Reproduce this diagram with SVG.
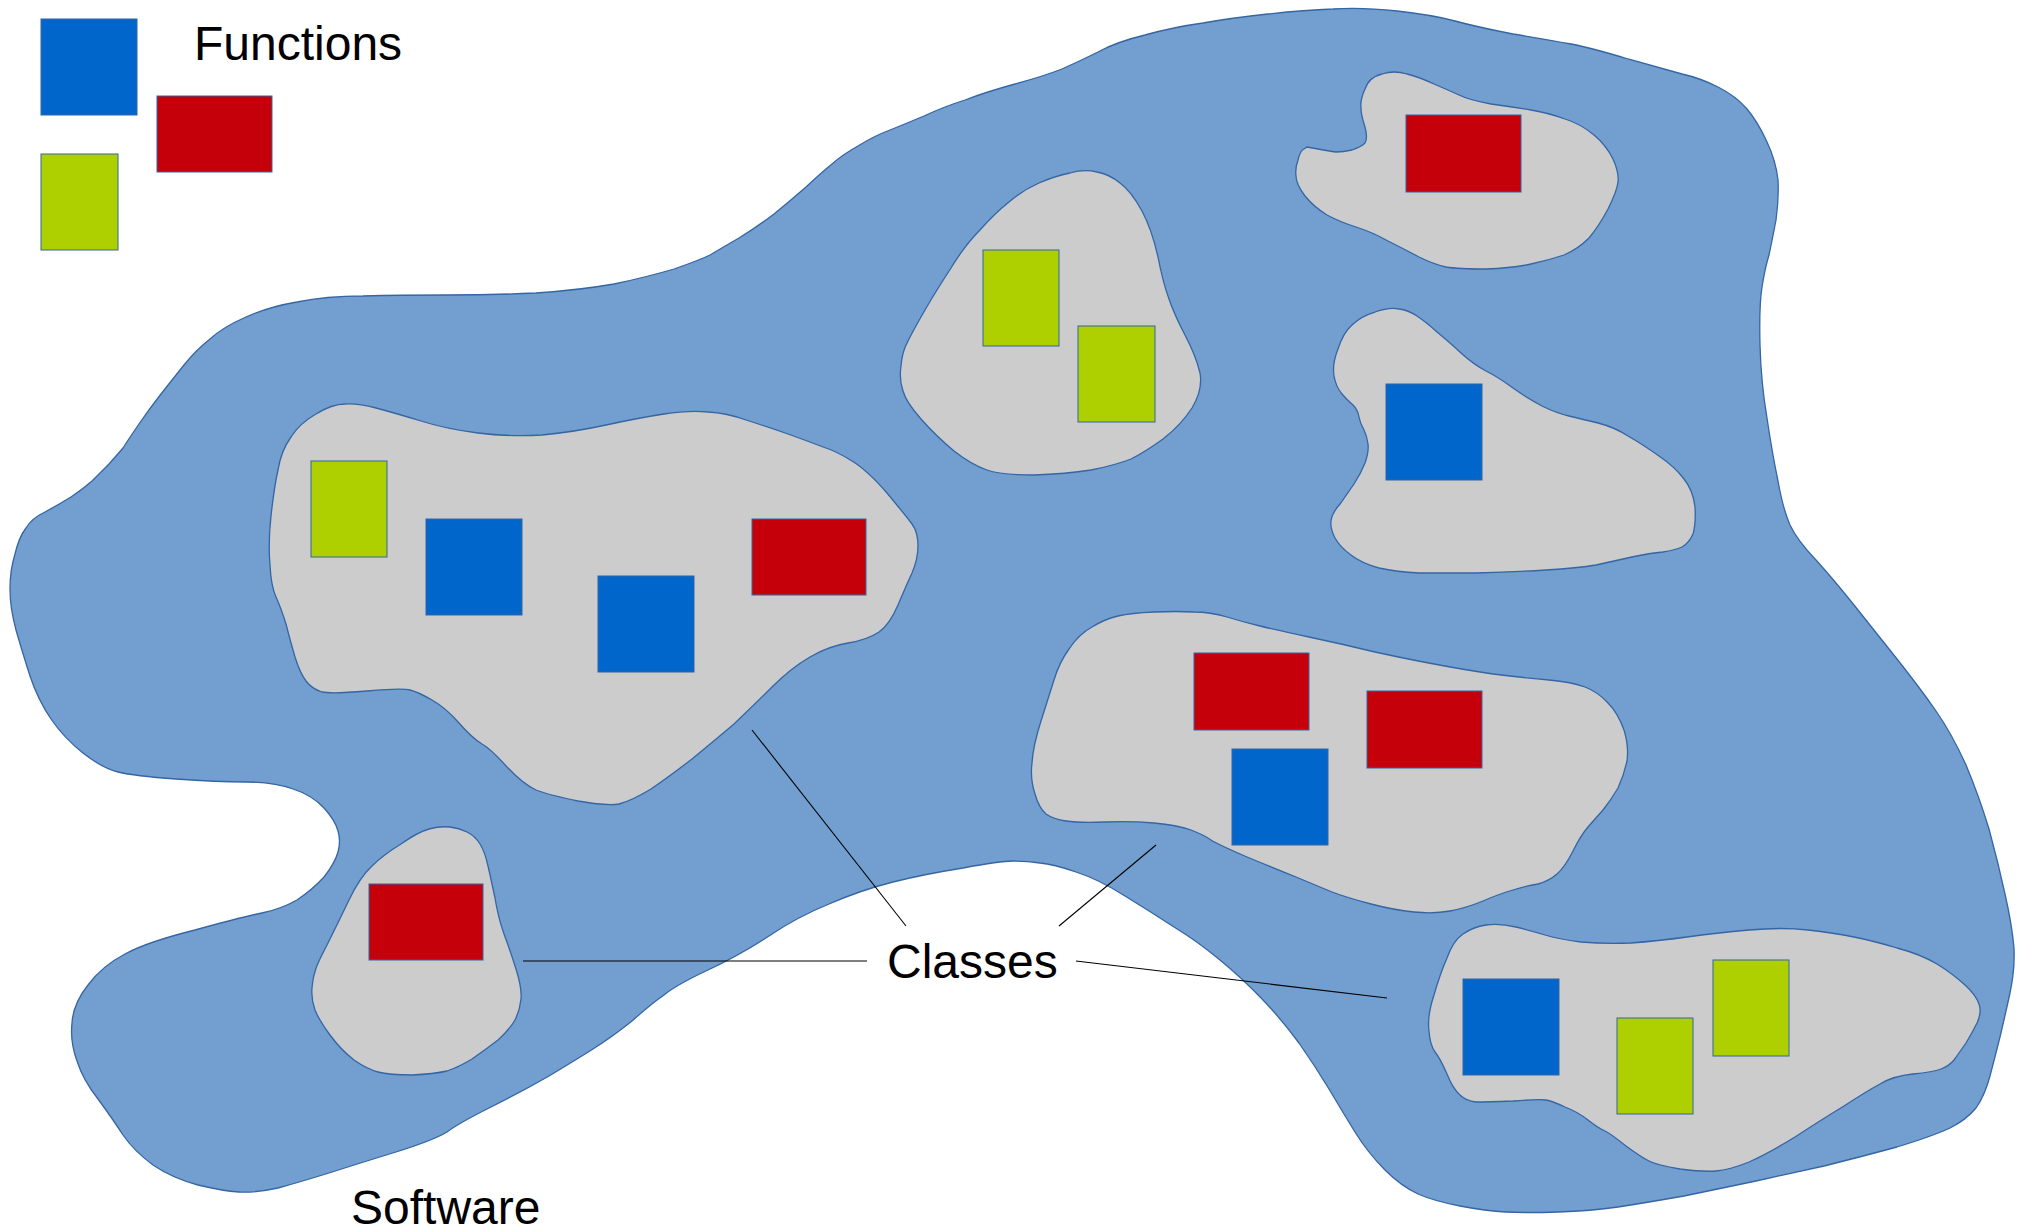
<svg xmlns="http://www.w3.org/2000/svg" width="2030" height="1231" viewBox="0 0 2030 1231">
<style>
.sw{fill:#729fcf;stroke:#3465a4;stroke-width:1.3}
.cls{fill:#cccccc;stroke:#3465a4;stroke-width:1.3}
.fb{fill:#0066cc;stroke:#3465a4;stroke-width:1}
.fr{fill:#c5000b;stroke:#3465a4;stroke-width:1}
.fg{fill:#aecf00;stroke:#3465a4;stroke-width:1}
.lbl{font-family:"Liberation Sans",Arial,sans-serif;font-size:48px;fill:#000}
.con{stroke:#000;stroke-width:1.1;fill:none}
</style>
<rect width="2030" height="1231" fill="#ffffff"/>
<g id="software">
<path class="sw" d="M 26,528 Q 32,518 45,512 Q 58,505 71,497 Q 83,489 92,481 Q 100,473 109,464 Q 117,455 123,448 Q 128,440 139,424 Q 150,408 161,394 Q 172,380 184,365 Q 196,350 210,339 Q 223,327 246,317 Q 268,307 297,302 Q 326,296 363,296 Q 400,295 446,295 Q 491,295 536,293 Q 580,290 614,284 Q 647,277 674,269 Q 700,260 710,255 Q 720,249 739,238 Q 757,227 774,214 Q 790,201 806,187 Q 822,172 832,164 Q 842,155 858,146 Q 874,136 890,130 Q 905,124 924,116 Q 943,107 965,100 Q 986,92 1015,84 Q 1044,76 1062,69 Q 1080,61 1098,52 Q 1116,42 1145,35 Q 1174,27 1203,23 Q 1231,18 1268,14 Q 1304,10 1333,9 Q 1361,7 1397,11 Q 1433,15 1455,21 Q 1477,27 1513,34 Q 1549,40 1571,44 Q 1592,48 1628,59 Q 1664,69 1682,74 Q 1700,78 1718,87 Q 1736,96 1747,109 Q 1758,122 1767,142 Q 1776,161 1778,180 Q 1779,199 1776,220 Q 1772,241 1769,255 Q 1765,268 1762,287 Q 1759,306 1760,345 Q 1761,383 1767,418 Q 1772,452 1778,481 Q 1783,509 1790,525 Q 1797,540 1816,560 Q 1834,580 1854,605 Q 1874,630 1897,659 Q 1920,688 1936,711 Q 1952,734 1966,765 Q 1979,796 1989,829 Q 1998,862 2005,894 Q 2012,925 2014,948 Q 2015,970 2010,993 Q 2005,1016 2000,1037 Q 1995,1057 1990,1076 Q 1985,1095 1976,1108 Q 1966,1120 1950,1128 Q 1933,1136 1897,1147 Q 1860,1157 1824,1166 Q 1788,1174 1756,1181 Q 1723,1188 1684,1196 Q 1644,1203 1618,1207 Q 1591,1211 1558,1212 Q 1525,1213 1506,1212 Q 1486,1211 1460,1206 Q 1434,1201 1418,1194 Q 1401,1186 1385,1170 Q 1368,1153 1355,1132 Q 1342,1111 1329,1089 Q 1315,1066 1299,1043 Q 1282,1020 1263,1000 Q 1243,979 1220,960 Q 1197,941 1174,927 Q 1151,912 1125,896 Q 1098,879 1076,872 Q 1053,864 1040,863 Q 1026,861 1013,861 Q 1000,861 963,868 Q 925,874 893,882 Q 861,890 829,904 Q 797,917 769,936 Q 740,955 708,970 Q 676,985 664,995 Q 651,1004 632,1021 Q 612,1037 593,1049 Q 574,1061 549,1076 Q 523,1091 491,1107 Q 459,1123 447,1132 Q 434,1140 396,1152 Q 357,1164 329,1173 Q 300,1182 278,1188 Q 255,1193 239,1192 Q 223,1191 198,1185 Q 172,1178 153,1165 Q 134,1151 123,1135 Q 112,1118 98,1099 Q 83,1080 77,1061 Q 70,1042 72,1023 Q 73,1004 88,985 Q 102,966 125,954 Q 147,942 195,930 Q 242,917 262,913 Q 281,909 297,900 Q 312,890 324,877 Q 335,863 338,852 Q 341,841 338,831 Q 335,820 324,808 Q 312,795 293,789 Q 274,782 246,782 Q 217,782 176,779 Q 134,776 118,772 Q 102,768 83,753 Q 64,738 51,719 Q 38,700 30,676 Q 22,651 16,630 Q 10,608 10,589 Q 10,570 15,554 Q 19,537 26,528 Z"/>
<text class="lbl" x="351" y="1224">Software</text>
</g>
<g id="class-a">
<path class="cls" d="M 316,414 Q 332,404 345,404 Q 357,403 376,408 Q 395,413 421,421 Q 446,429 478,433 Q 510,437 542,435 Q 574,432 606,425 Q 638,418 664,414 Q 689,410 708,412 Q 727,413 746,420 Q 765,426 788,434 Q 810,442 823,447 Q 836,451 852,461 Q 867,470 887,493 Q 906,516 912,524 Q 918,532 918,546 Q 918,559 912,573 Q 906,586 898,605 Q 890,624 879,632 Q 867,640 848,643 Q 829,646 810,657 Q 791,668 772,687 Q 753,706 734,724 Q 714,741 692,759 Q 670,776 651,789 Q 631,801 619,804 Q 606,806 578,801 Q 549,795 536,790 Q 523,784 507,767 Q 491,749 482,744 Q 472,738 459,723 Q 446,708 432,700 Q 418,692 410,690 Q 402,688 367,691 Q 332,694 322,692 Q 312,689 306,681 Q 300,673 295,657 Q 290,640 286,624 Q 281,608 276,597 Q 271,586 270,565 Q 268,543 271,516 Q 274,488 278,470 Q 281,451 291,437 Q 300,423 316,414 Z"/>
<rect class="fg" x="311" y="461" width="76" height="96"/>
<rect class="fb" x="426" y="519" width="96" height="96"/>
<rect class="fb" x="598" y="576" width="96" height="96"/>
<rect class="fr" x="752" y="519" width="114" height="76"/>
</g>
<g id="class-b">
<path class="cls" d="M 1097,172 Q 1084,169 1070,173 Q 1055,176 1039,183 Q 1023,190 1009,202 Q 994,214 980,230 Q 965,245 951,268 Q 936,291 925,310 Q 914,329 908,341 Q 902,352 901,366 Q 899,380 903,391 Q 906,402 921,419 Q 936,436 954,451 Q 972,465 987,470 Q 1001,475 1034,475 Q 1066,474 1091,470 Q 1116,465 1131,459 Q 1145,452 1163,439 Q 1181,425 1192,408 Q 1203,390 1200,373 Q 1196,356 1185,335 Q 1174,314 1169,299 Q 1163,283 1158,257 Q 1152,230 1142,211 Q 1131,191 1120,183 Q 1109,174 1097,172 Z"/>
<rect class="fg" x="983" y="250" width="76" height="96"/>
<rect class="fg" x="1078" y="326" width="77" height="96"/>
</g>
<g id="class-c">
<path class="cls" d="M 1407,74 Q 1394,70 1382,74 Q 1369,77 1365,89 Q 1360,100 1361,108 Q 1361,115 1365,127 Q 1368,138 1365,143 Q 1361,147 1352,150 Q 1343,152 1336,152 Q 1329,151 1318,149 L 1307,147 L 1304,149 Q 1300,151 1298,160 Q 1295,168 1296,176 Q 1296,184 1305,196 Q 1314,207 1327,215 Q 1340,222 1356,227 Q 1372,232 1388,241 Q 1404,249 1419,257 Q 1433,264 1446,267 Q 1458,269 1486,269 Q 1513,268 1531,264 Q 1549,260 1564,255 Q 1578,249 1589,238 Q 1599,226 1608,209 Q 1617,191 1618,182 Q 1619,172 1613,159 Q 1606,145 1594,135 Q 1581,124 1565,119 Q 1549,113 1531,110 Q 1513,107 1491,104 Q 1469,100 1459,95 Q 1448,90 1434,84 Q 1419,77 1407,74 Z"/>
<rect class="fr" x="1406" y="115" width="115" height="77"/>
</g>
<g id="class-d">
<path class="cls" d="M 1399,309 Q 1389,307 1375,312 Q 1361,316 1352,325 Q 1343,333 1338,349 Q 1332,364 1334,376 Q 1336,387 1342,394 Q 1347,400 1353,405 Q 1358,410 1359,417 Q 1360,423 1364,430 Q 1367,436 1368,444 Q 1369,452 1365,463 Q 1361,473 1354,484 Q 1347,494 1340,504 Q 1332,513 1331,521 Q 1330,528 1335,538 Q 1340,547 1351,555 Q 1361,563 1379,568 Q 1397,572 1419,573 Q 1441,573 1477,573 Q 1513,572 1546,570 Q 1578,568 1596,565 Q 1614,561 1632,557 Q 1650,553 1663,552 Q 1675,550 1682,547 Q 1689,543 1693,534 Q 1696,524 1695,507 Q 1693,490 1684,479 Q 1675,467 1659,456 Q 1642,444 1628,436 Q 1614,427 1598,423 Q 1581,419 1569,416 Q 1556,413 1542,406 Q 1527,398 1513,388 Q 1498,377 1486,371 Q 1473,364 1461,353 Q 1448,341 1437,332 Q 1426,322 1417,316 Q 1408,310 1399,309 Z"/>
<rect class="fb" x="1386" y="384" width="96" height="96"/>
</g>
<g id="class-e">
<path class="cls" d="M 1118,616 Q 1131,613 1154,612 Q 1177,611 1194,612 Q 1210,612 1227,617 Q 1243,622 1260,626 Q 1276,630 1309,637 Q 1342,644 1375,652 Q 1407,659 1434,664 Q 1460,669 1493,674 Q 1526,678 1549,680 Q 1572,682 1585,687 Q 1598,692 1608,703 Q 1618,713 1624,730 Q 1629,746 1627,761 Q 1624,775 1618,788 Q 1611,800 1603,810 Q 1595,819 1588,827 Q 1581,835 1573,851 Q 1565,867 1557,874 Q 1549,881 1538,884 Q 1526,886 1513,890 Q 1499,894 1483,901 Q 1466,908 1450,911 Q 1434,914 1414,912 Q 1394,910 1371,904 Q 1348,898 1332,892 Q 1315,885 1296,877 Q 1276,869 1247,857 Q 1217,844 1211,840 Q 1204,835 1191,830 Q 1177,825 1154,823 Q 1131,821 1105,822 Q 1079,823 1066,821 Q 1053,819 1046,814 Q 1039,808 1035,794 Q 1030,779 1032,763 Q 1033,746 1041,721 Q 1049,696 1054,680 Q 1059,663 1069,649 Q 1079,634 1092,627 Q 1105,619 1118,616 Z"/>
<rect class="fr" x="1194" y="653" width="115" height="77"/>
<rect class="fr" x="1367" y="691" width="115" height="77"/>
<rect class="fb" x="1232" y="749" width="96" height="96"/>
</g>
<g id="class-f">
<path class="cls" d="M 1516,927 Q 1499,923 1486,925 Q 1473,927 1463,934 Q 1453,941 1447,958 Q 1440,974 1434,995 Q 1427,1016 1429,1031 Q 1430,1045 1435,1052 Q 1440,1058 1447,1074 Q 1453,1089 1460,1095 Q 1466,1101 1476,1102 Q 1486,1102 1513,1101 Q 1539,1099 1546,1100 Q 1552,1101 1565,1107 Q 1578,1112 1588,1120 Q 1598,1128 1605,1131 Q 1611,1134 1626,1146 Q 1641,1157 1649,1161 Q 1657,1165 1680,1169 Q 1703,1172 1716,1171 Q 1729,1170 1749,1162 Q 1769,1153 1795,1137 Q 1821,1120 1844,1106 Q 1867,1091 1880,1084 Q 1893,1076 1913,1074 Q 1933,1072 1941,1069 Q 1949,1066 1954,1060 Q 1959,1053 1966,1043 Q 1972,1033 1977,1023 Q 1982,1012 1979,1004 Q 1976,995 1965,985 Q 1953,974 1937,964 Q 1920,954 1897,948 Q 1874,941 1854,937 Q 1834,933 1808,930 Q 1782,927 1749,930 Q 1716,933 1687,937 Q 1657,941 1631,943 Q 1604,944 1581,942 Q 1558,939 1545,935 Q 1532,931 1516,927 Z"/>
<rect class="fb" x="1463" y="979" width="96" height="96"/>
<rect class="fg" x="1617" y="1018" width="76" height="96"/>
<rect class="fg" x="1713" y="960" width="76" height="96"/>
</g>
<g id="class-g">
<path class="cls" d="M 450,827 Q 440,826 429,829 Q 418,832 401,844 Q 383,855 372,866 Q 360,877 349,900 Q 338,923 327,945 Q 316,966 315,972 Q 313,977 312,988 Q 311,999 315,1010 Q 319,1020 330,1035 Q 341,1050 354,1060 Q 367,1069 378,1072 Q 389,1075 412,1075 Q 434,1074 447,1071 Q 459,1067 472,1059 Q 485,1050 498,1040 Q 510,1029 515,1020 Q 520,1010 521,999 Q 522,988 516,969 Q 510,950 504,934 Q 498,917 495,898 Q 491,879 488,866 Q 485,852 480,844 Q 475,836 467,832 Q 459,828 450,827 Z"/>
<rect class="fr" x="369" y="884" width="114" height="76"/>
</g>
<g id="legend">
<rect class="fb" x="41" y="19" width="96" height="96"/>
<rect class="fr" x="157" y="96" width="115" height="76"/>
<rect class="fg" x="41" y="154" width="77" height="96"/>
<text class="lbl" x="194" y="60">Functions</text>
</g>
<g id="classes-label">
<text class="lbl" x="887" y="978">Classes</text>
</g>
<g id="connectors">
<line class="con" x1="752" y1="730" x2="906" y2="926"/>
<line class="con" x1="1059" y1="926" x2="1156" y2="845"/>
<line class="con" x1="523" y1="961" x2="867" y2="961"/>
<line class="con" x1="1076" y1="961" x2="1387" y2="998"/>
</g>
</svg>
